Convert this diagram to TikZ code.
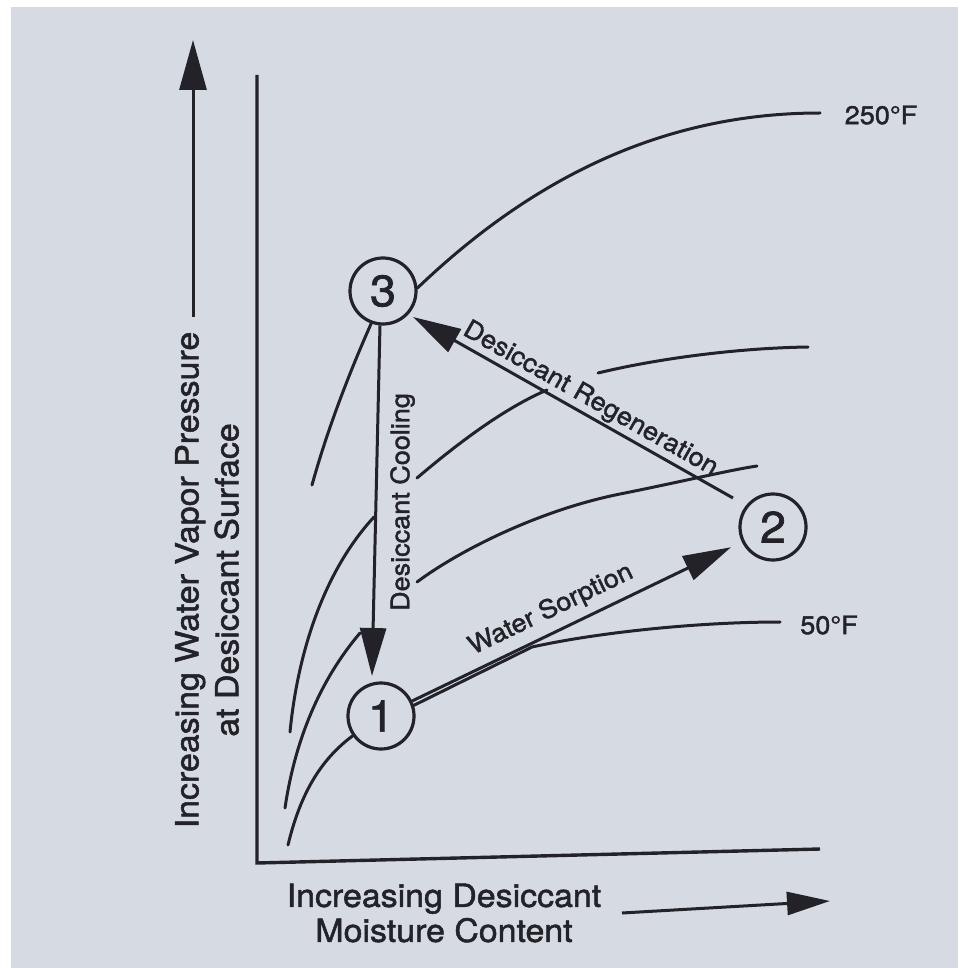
\documentclass[tikz,border=0pt]{standalone}
\usepackage{fontspec}
\usetikzlibrary{arrows.meta, positioning, calc}
\newfontfamily\labfont[FakeStretch=1.06, FakeBold=1.6]{TeX Gyre Heros}
\definecolor{paper}{RGB}{214,219,227}
\definecolor{ink}{RGB}{34,34,40}
\tikzset{%
  curve/.style={draw=ink, line width=3pt, line cap=round},
  axis/.style={draw=ink, line width=3.4pt},
  flow/.style={draw=ink, line width=3pt, -{Triangle[length=48pt,width=26pt]}},
  state/.style={draw=ink, circle, line width=3.2pt, minimum size=66pt, inner sep=0pt,
    text=ink, font=\labfont\fontsize{44}{44}\selectfont},
  lab/.style={text=ink, inner sep=1pt, font=\labfont\fontsize{25.5}{30}\selectfont},
  axislab/.style={text=ink, inner sep=0pt, align=center, font=\labfont\fontsize{32}{35}\selectfont}
}

\begin{document}
\begin{tikzpicture}[x=1pt, y=-1pt]
  \fill[paper] (0,0) rectangle (958,968);
  \fill[white] (0,0) rectangle (958,7);
  \fill[white] (0,0) rectangle (11,968);
  \useasboundingbox (0,0) rectangle (958,968);

  % axes
  \coordinate (ytop) at (257,75);
  \coordinate (orig) at (257,863);
  \coordinate (xend) at (820,849);
  \draw[axis] (ytop) -- (orig) -- (xend);

  \node[axislab, rotate=90] (ylab) at (207,580) {Increasing Water Vapor Pressure\\[5pt]at Desiccant Surface};
  \coordinate (yfoot) at (193,317);
  \coordinate (ytip) at (193,40);
  \draw[draw=ink, line width=3pt, -{Triangle[length=50pt,width=27pt]}] (yfoot) -- (ytip);

  \node[axislab] (xlab) at (444,913) {Increasing Desiccant\\Moisture Content};
  \coordinate (xfoot) at (622,913);
  \coordinate (xtip) at (830,901);
  \draw[draw=ink, line width=3pt, -{Triangle[length=43pt,width=23pt]}] (xfoot) -- (xtip);

  % state points
  \node[state] (p3) at (383,291) {3};
  \node[state] (p2) at (773,527) {2};
  \node[state] (p1) at (381,716) {1};

  % isotherms
  \draw[curve] (312,485) .. controls (330,420) and (355,360) .. (p3.250);
  \draw[curve] (p3.5) .. controls (520,190) and (650,113) .. (820,113);
  \node[lab] (t250) at (881,115) {250°F};

  \draw[curve] (417,478) .. controls (450,450) and (500,410) .. (547,390);
  \draw[curve] (598,373) .. controls (660,358) and (740,348) .. (808,347);

  \draw[curve] (290,732) .. controls (298,650) and (325,570) .. (374,517);
  \draw[curve] (417,582) .. controls (460,550) and (540,510) .. (620,494)
    .. controls (680,482) and (730,470) .. (757,466);

  \draw[curve] (285,808) .. controls (295,740) and (320,680) .. (360,633);

  \draw[curve] (288,845) .. controls (300,795) and (320,760) .. (p1.215);
  \draw[curve] (p1.18) -- (532,647) .. controls (600,632) and (700,622) .. (780,622);
  \node[lab] (t50) at (829,625) {50°F};

  % process arrows
  \coordinate (rgtail) at (733,498);
  \coordinate (rgtip) at (413,317);
  \draw[flow] (rgtail) -- node[lab, sloped, above=1pt, pos=0.47] (rglab) {Desiccant Regeneration} (rgtip);

  \coordinate (dctip) at (372,676);
  \draw[flow] (p3.265) -- (dctip);
  \node[lab, rotate=90, anchor=north] (dclab) at (389,502) {Desiccant Cooling};

  \draw[flow, shorten >=12pt] (p1) -- node[lab, sloped, above=7pt, pos=0.45] (wslab) {Water Sorption} (p2);
\end{tikzpicture}
\end{document}
